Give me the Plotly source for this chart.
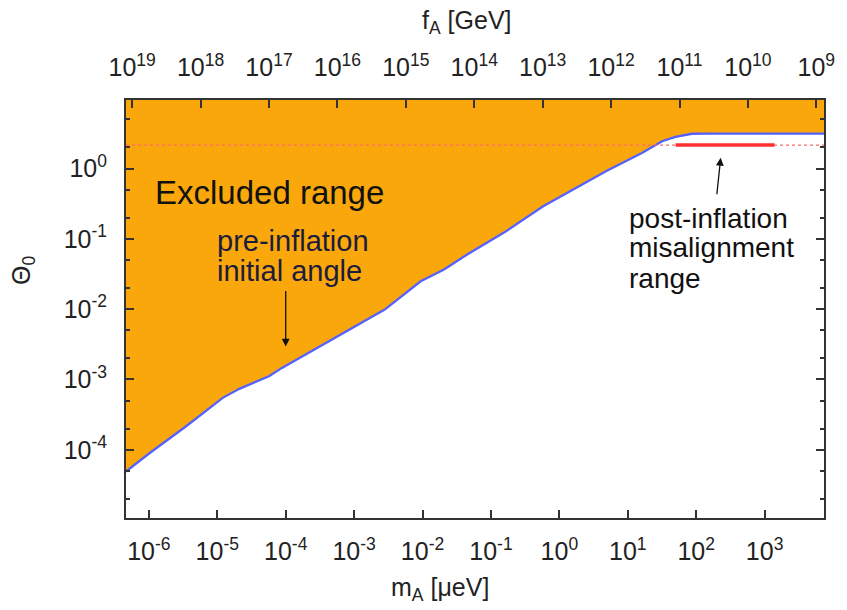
import numpy as np
import plotly.graph_objects as go

# ---- data ----
m_A = [4.6e-7, 1.03e-6, 3.5e-6, 1.2e-5, 2.1e-5, 5.7e-5, 8.8e-5, 2.15e-4, 8.2e-4,
       2.8e-3, 9.4e-3, 0.0206, 0.0449, 0.153, 0.58, 1.58, 4.8, 16.3, 31.8, 49.7,
       86.7, 149, 7400]
theta0 = [4.9e-5, 9.0e-5, 2.16e-4, 5.47e-4, 7.35e-4, 1.11e-3, 1.46e-3, 2.39e-3,
          5.13e-3, 9.86e-3, 0.0249, 0.0366, 0.0598, 0.1216, 0.291, 0.502, 0.916,
          1.67, 2.44, 2.82, 3.12, 3.1416, 3.1416]
x_range = [4.63e-7, 7380]
y_range = [1.07e-5, 3 * np.pi]
post_theta = 2.155
post_range = [50, 1400]
fA_ticks = [1e19, 1e18, 1e17, 1e16, 1e15, 1e14, 1e13, 1e12, 1e11, 1e10, 1e9]
fA_labels = ["10<sup>%d</sup>" % e for e in range(19, 8, -1)]
mA_ticks = [1e-6, 1e-5, 1e-4, 1e-3, 1e-2, 1e-1, 1, 10, 100, 1000]
mA_labels = ["10<sup>%d</sup>" % e for e in range(-6, 4)]
th_ticks = [1e-4, 1e-3, 1e-2, 1e-1, 1]
th_labels = ["10<sup>%d</sup>" % e for e in range(-4, 1)]
th_minor = [k * 10.0 ** e for e in range(-5, 1) for k in (2, 5)]
FA_CONST = 5.7e12  # f_A[GeV] = 5.7e12 / m_A[ueV]

FONT = "Liberation Sans, Arial, Helvetica, sans-serif"
ORANGE = "#f9a70b"
BLUE = "#5561ff"
TXT = "#222"

fig = go.Figure()
# top boundary for the fill
fig.add_trace(go.Scatter(x=x_range, y=[y_range[1], y_range[1]], mode="lines",
                         line=dict(width=0, color=ORANGE), showlegend=False,
                         hoverinfo="skip"))
fig.add_trace(go.Scatter(x=m_A, y=theta0, mode="lines", fill="tonexty",
                         fillcolor=ORANGE, line=dict(color=BLUE, width=2.3),
                         showlegend=False))
# post-inflation average angle
fig.add_trace(go.Scatter(x=x_range, y=[post_theta, post_theta], mode="lines",
                         line=dict(color="#ff6b6b", width=1.3, dash="dot"),
                         showlegend=False))
fig.add_trace(go.Scatter(x=post_range, y=[post_theta, post_theta], mode="lines",
                         line=dict(color="#ff3030", width=3.5),
                         showlegend=False))
# invisible trace on the top f_A axis
fig.add_trace(go.Scatter(x=[FA_CONST / x_range[0], FA_CONST / x_range[1]],
                         y=[1, 1], xaxis="x2", mode="lines",
                         line=dict(width=0), showlegend=False, hoverinfo="skip"))

tickfont = dict(family=FONT, size=25, color=TXT)
common = dict(ticks="inside", ticklen=8, tickwidth=1.5, tickcolor="#333",
              showgrid=False, zeroline=False, showline=True, linecolor="#333",
              linewidth=2, tickfont=tickfont)
fig.update_layout(
    width=847, height=610,
    margin=dict(l=126, r=17, t=100, b=92),
    paper_bgcolor="white", plot_bgcolor="white",
    font=dict(family=FONT, color=TXT),
    xaxis=dict(type="log", range=[np.log10(x_range[0]), np.log10(x_range[1])],
               tickvals=mA_ticks, ticktext=mA_labels, mirror=False,
               ticklabelstandoff=10, **common),
    xaxis2=dict(type="log", overlaying="x", side="top",
                range=[np.log10(FA_CONST / x_range[0]), np.log10(FA_CONST / x_range[1])],
                tickvals=fA_ticks, ticktext=fA_labels, ticklabelstandoff=12,
                **common),
    yaxis=dict(type="log", range=[np.log10(y_range[0]), np.log10(y_range[1])],
               tickvals=th_ticks, ticktext=th_labels, mirror="ticks",
               ticklabelstandoff=12,
               minor=dict(tickvals=th_minor, ticks="inside", ticklen=4,
                          tickcolor="#333", showgrid=False), **common),
)

def px(xp, yp):
    return (xp - 126) / 704.0, (518 - yp) / 418.0

ann = []
def text(s, xp, yp, size, color="#111", xanchor="left", angle=0):
    X, Y = px(xp, yp)
    ann.append(dict(text=s, x=X, y=Y, xref="paper", yref="paper", showarrow=False,
                    xanchor=xanchor, yanchor="middle", textangle=angle,
                    font=dict(family=FONT, size=size, color=color)))

# axis titles
text("f<sub>A</sub> [GeV]", 470, 22, 25, TXT, "center")
text("m<sub>A</sub> [μeV]", 443, 589, 25, TXT, "center")
text("Θ<sub>0</sub>", 22, 270, 25, TXT, "center", -90)

text("Excluded range", 153, 192, 33)
text("pre-inflation", 216, 241, 29, "#1c1c3c")
text("initial angle", 216, 271, 29, "#1c1c3c")
text("post-inflation", 631, 218, 28)
text("misalignment", 631, 248, 28)
text("range", 631, 278, 28)

# arrows (tip in data coordinates, tail as pixel offset)
ann.append(dict(x=np.log10(1e-4), y=np.log10(2.94e-3), xref="x", yref="y",
                ax=0, ay=-57, showarrow=True, arrowhead=2, arrowsize=1.2,
                arrowwidth=1.3, arrowcolor="#111", text=""))
ann.append(dict(x=np.log10(228), y=np.log10(1.42), xref="x", yref="y",
                ax=-4, ay=38, showarrow=True, arrowhead=2, arrowsize=1.2,
                arrowwidth=1.3, arrowcolor="#111", text=""))
fig.update_layout(annotations=ann)

fig.write_html("out.html")
